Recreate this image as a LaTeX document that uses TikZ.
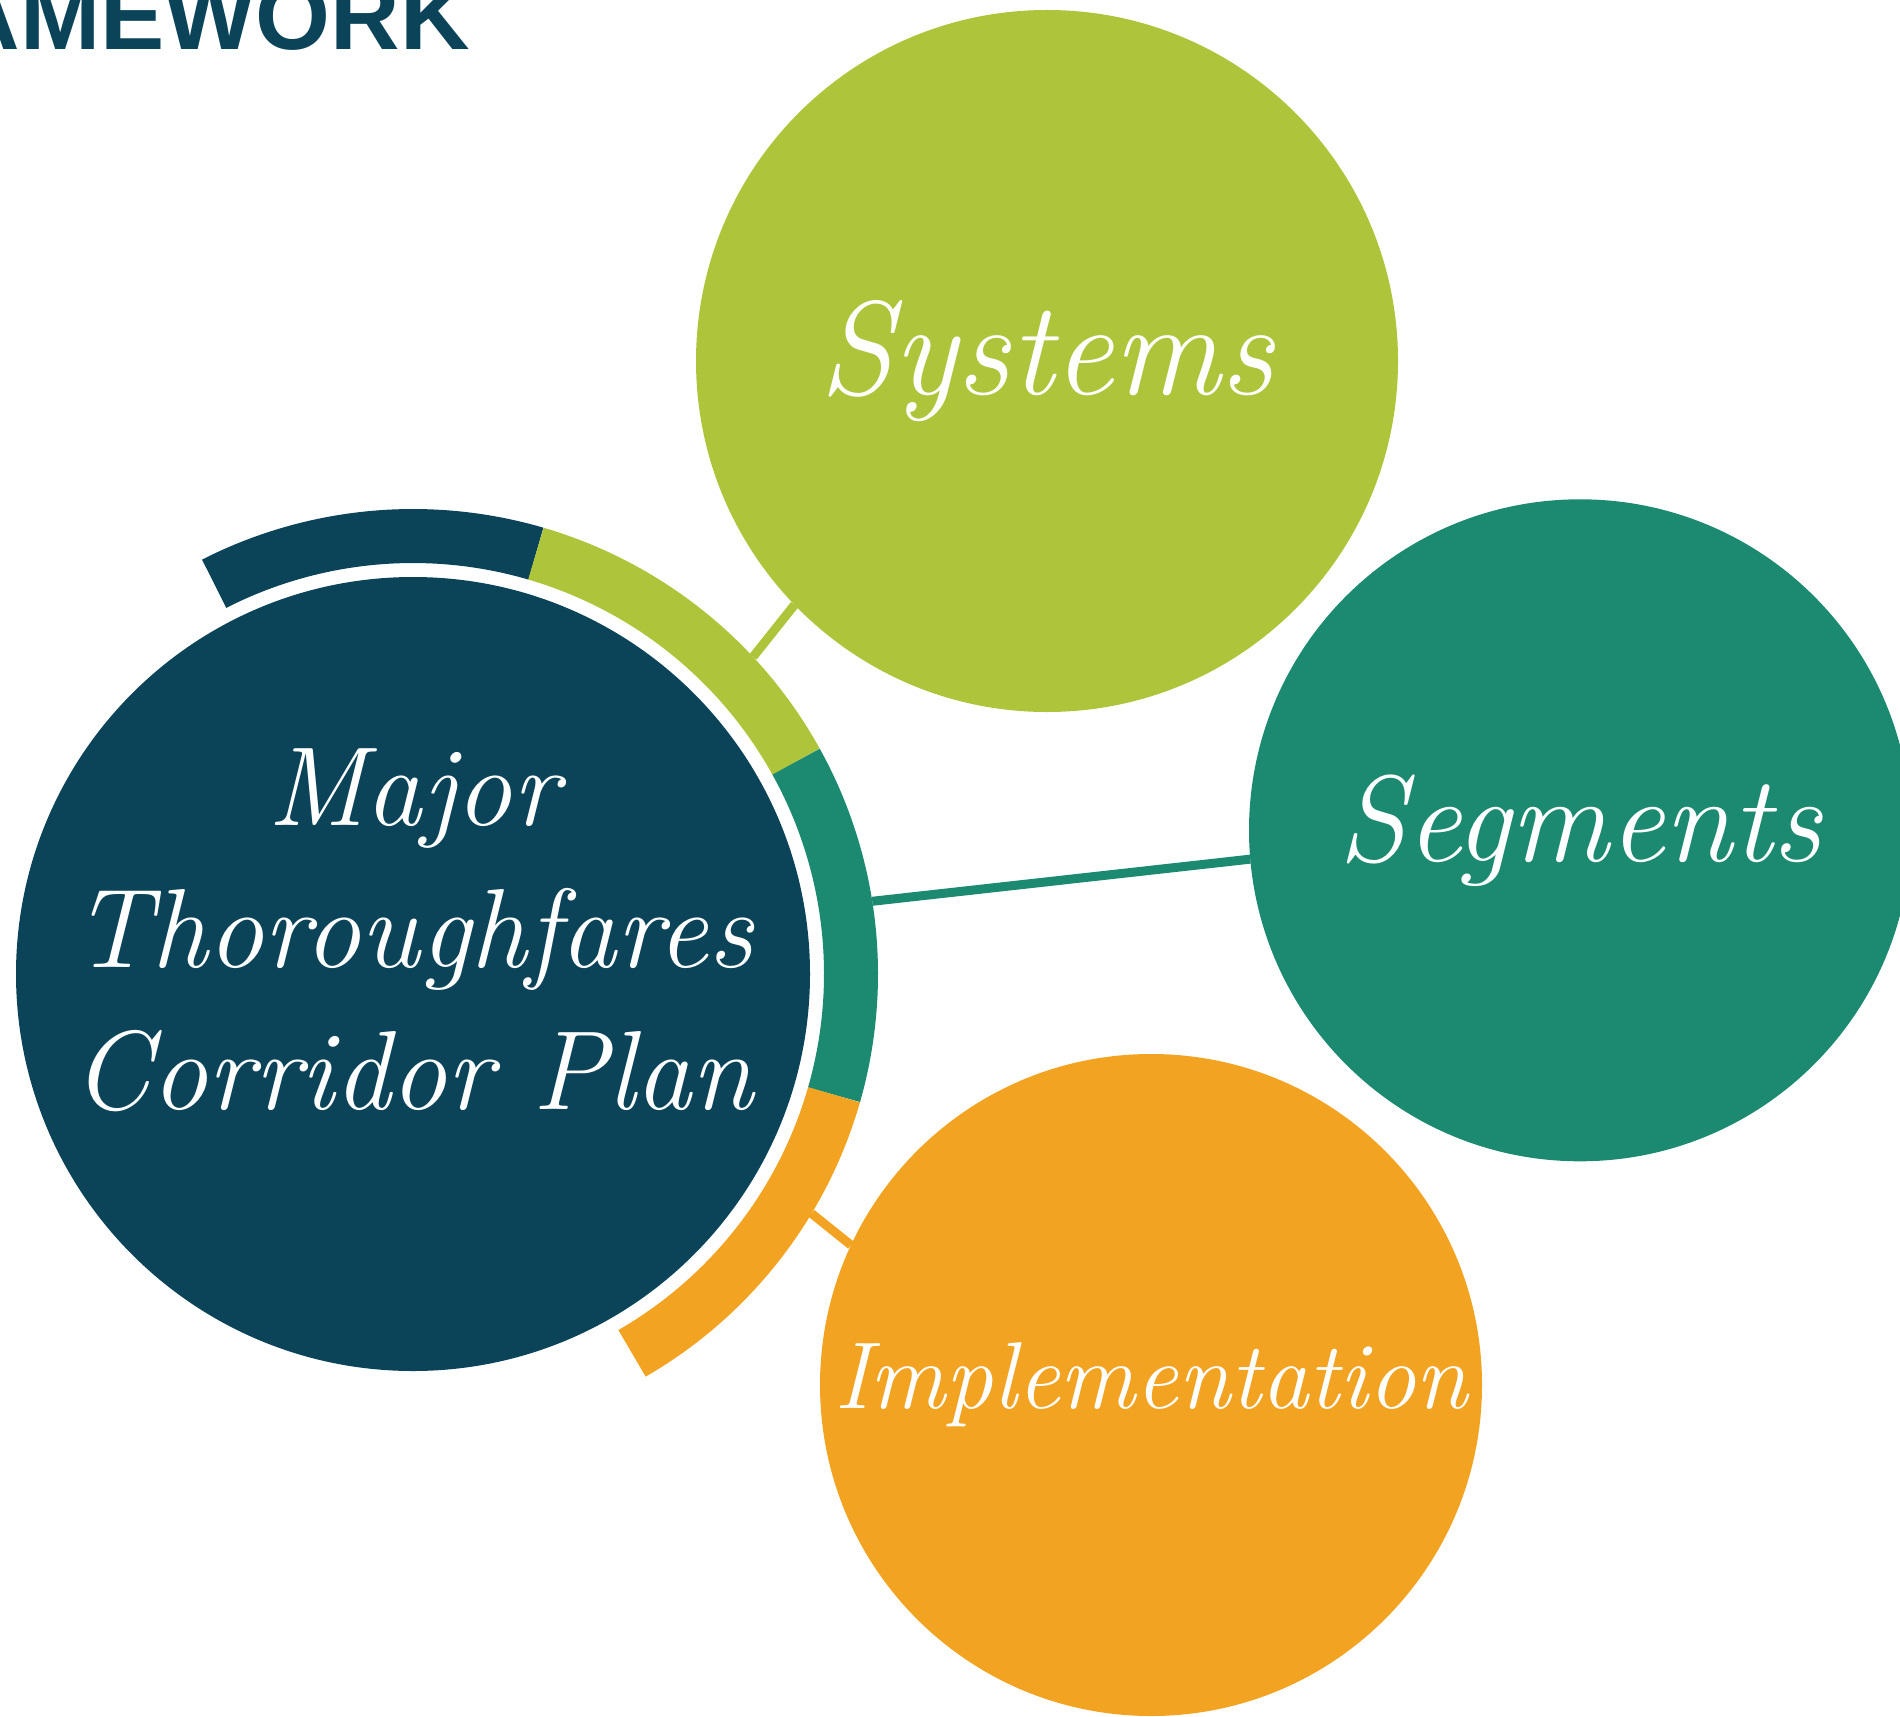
\documentclass[tikz,border=0pt]{standalone}
\usepackage{fontspec}
\newfontfamily\headfont{Liberation Sans}
\definecolor{mtblue}{HTML}{0B4459}
\definecolor{mtlime}{HTML}{AEC43A}
\definecolor{mtteal}{HTML}{1B8A70}
\definecolor{mtorange}{HTML}{F2A322}
\begin{document}
\begin{tikzpicture}
[% STYLES
% The hub style is used to draw the big circle of the plan
hub/.style={circle, fill=mtblue, inner sep=0pt, outer sep=0pt, minimum size=7.94cm},
% The topic style is used to draw the three circles round it
topic/.style={circle, inner sep=0pt, outer sep=0pt, text=white},
ringbox/.style={circle, inner sep=0pt, outer sep=0pt, minimum size=9.3cm},
band/.style={line width=0.54cm},
link/.style={line width=0.09cm},
script/.style={text=white, align=center, font=\fontsize{32}{40.4}\selectfont\itshape}]

\path [use as bounding box, clip] (0,0) rectangle (19,17.16);

% Heading, cut by the page
\node [anchor=base west, inner sep=0pt, text=mtblue, font=\headfont\bfseries\fontsize{27.4}{30}\selectfont] (heading) at (-0.50,16.66) {AMEWORK};

% Draw the plan circle and its ring
\node [hub] (plan) at (4.13,7.42) {};
\node [ringbox] (ring) at (plan) {};
\foreach \from/\to/\col in {117/73.7/mtblue, 73.7/29/mtlime, 29/-16/mtteal, -16/-60/mtorange}
  \draw [band, \col] ([shift={(\from:4.38)}]plan.center) arc (\from:\to:4.38);
\node [script] (plantext) at (4.13,7.86) {Major\\Thoroughfares\\Corridor Plan};

% Draw topics
\node [topic, fill=mtlime, minimum size=7.02cm, font=\fontsize{38}{40}\selectfont\itshape] (systems) at (10.47,13.55) {Systems};
\node [topic, fill=mtteal, minimum size=6.62cm, font=\fontsize{35}{40}\selectfont\itshape] (segments) at (15.80,8.857) {Segments};
\node [topic, fill=mtorange, minimum size=6.62cm, font=\fontsize{27}{30}\selectfont\itshape] (implementation) at (11.51,3.31) {Implementation};

% Draw links
\draw [link, mtlime] (ring.43.4) -- (systems.224.3);
\draw [link, mtteal] (ring.9) -- (segments.185.3);
\draw [link, mtorange] (ring.-31.5) -- (implementation.155.3);

\end{tikzpicture}
\end{document}
